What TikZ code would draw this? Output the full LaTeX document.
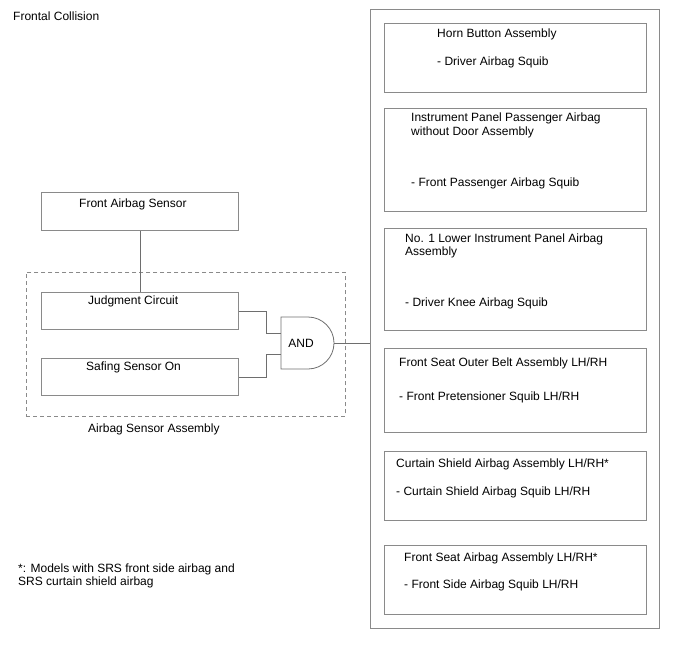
\documentclass[tikz,border=0pt]{standalone}
\usepackage{fontspec}
\setmainfont{Liberation Sans}
\usetikzlibrary{positioning}
\definecolor{framegray}{HTML}{8A8A8A}
\definecolor{wiregray}{HTML}{6E6E6E}
\tikzset{
    box/.style={draw=framegray, line width=0.9pt, anchor=north west, inner sep=0pt},
    txt/.style={anchor=west, inner sep=0pt, align=left, font=\fontsize{12}{13.5}\selectfont},
    wire/.style={draw=wiregray, line width=0.8pt}
}

\begin{document}
\begin{tikzpicture}[x=1pt, y=-1pt]
    \useasboundingbox (0,0) rectangle (688,658);

    % Title and footnote
    \node[txt] (title) at (13,16) {Frontal Collision};
    \node[txt] (note) at (18,576) {*: Models with SRS front side airbag and\\SRS curtain shield airbag};

    % Airbag sensor assembly
    \node[box, dash pattern=on 4pt off 3pt, minimum width=319, minimum height=144] (assy) at (26,272) {};
    \node[txt] (assytxt) at (88,429) {Airbag Sensor Assembly};

    \node[box, minimum width=197, minimum height=38] (sensor) at (41,192) {};
    \node[txt] (sensortxt) at (79,204) {Front Airbag Sensor};

    \node[box, minimum width=197, minimum height=37] (judge) at (41,292) {};
    \node[txt] (judgetxt) at (88,301) {Judgment Circuit};

    \node[box, minimum width=197, minimum height=37] (safe) at (41,358) {};
    \node[txt] (safetxt) at (86,367) {Safing Sensor On};

    % AND gate
    \draw[wire] (281,317) -- (308,317) arc (-90:90:26) -- (281,369) -- cycle;
    \node[inner sep=0pt, font=\fontsize{12}{13.5}\selectfont] (gate) at (301,343) {AND};
    \coordinate (in1) at (281,333);
    \coordinate (in2) at (281,354);
    \coordinate (out) at (334,343);

    % Squib boxes
    \node[box, minimum width=289, minimum height=619] (squibs) at (370,9) {};

    \node[box, minimum width=262, minimum height=69] (horn) at (384,23) {};
    \node[txt] (horntxt) at (437,34) {Horn Button Assembly};
    \node[txt] (hornsq) at (437,62) {- Driver Airbag Squib};

    \node[box, minimum width=262, minimum height=103] (pass) at (384,108) {};
    \node[txt] (passtxt) at (411,125.5) {Instrument Panel Passenger Airbag\\without Door Assembly};
    \node[txt] (passsq) at (411,183) {- Front Passenger Airbag Squib};

    \node[box, minimum width=262, minimum height=102] (knee) at (384,228) {};
    \node[txt] (kneetxt) at (405,246) {No. 1 Lower Instrument Panel Airbag\\Assembly};
    \node[txt] (kneesq) at (405,303) {- Driver Knee Airbag Squib};

    \node[box, minimum width=262, minimum height=84] (belt) at (384,348) {};
    \node[txt] (belttxt) at (399,363) {Front Seat Outer Belt Assembly LH/RH};
    \node[txt] (beltsq) at (399,397) {- Front Pretensioner Squib LH/RH};

    \node[box, minimum width=262, minimum height=69] (curtain) at (384,451) {};
    \node[txt] (curtaintxt) at (396,464) {Curtain Shield Airbag Assembly LH/RH*};
    \node[txt] (curtainsq) at (396,492) {- Curtain Shield Airbag Squib LH/RH};

    \node[box, minimum width=262, minimum height=69] (side) at (384,545) {};
    \node[txt] (sidetxt) at (404,558) {Front Seat Airbag Assembly LH/RH*};
    \node[txt] (sidesq) at (404,585) {- Front Side Airbag Squib LH/RH};

    % Wiring
    \draw[wire] (sensor.south) -- (judge.north);
    \draw[wire] (judge.east) -- ++(27,0) |- (in1);
    \draw[wire] (safe.east) -- ++(27,0) |- (in2);
    \draw[wire] (out) -- (out -| squibs.west);

\end{tikzpicture}
\end{document}
